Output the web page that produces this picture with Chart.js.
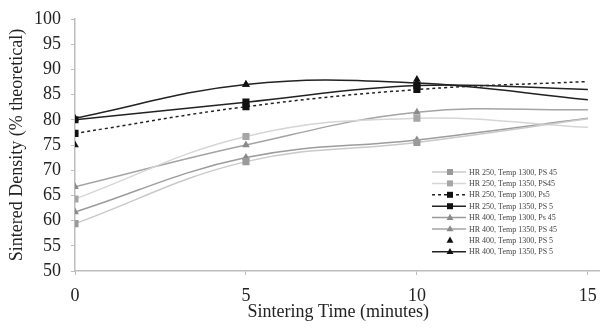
<!DOCTYPE html>
<html>
<head>
<meta charset="utf-8">
<script src="https://cdn.jsdelivr.net/npm/chart.js@4/dist/chart.umd.min.js"></script>
<style>
  html, body { margin: 0; padding: 0; background: #fff; overflow: hidden; }
  #wrap { width: 600px; height: 328px; overflow: hidden; }
</style>
</head>
<body>
<div id="wrap"><canvas id="densityChart" width="609" height="328"></canvas></div>
<script>
// Sintered density vs sintering time, 8 processing conditions

const TIMES = [0, 5, 10, 15];
const X_TICKS = [0, 5, 10, 15];
const Y_TICKS = [50, 55, 60, 65, 70, 75, 80, 85, 90, 95, 100];

const LABELS = [
  'HR 250, Temp 1300, PS 45',
  'HR 250, Temp 1350, PS45',
  'HR 250, Temp 1300, Ps5',
  'HR 250, Temp 1350, PS 5',
  'HR 400, Temp 1300, Ps 45',
  'HR 400, Temp 1350, PS 45',
  'HR 400, Temp 1300, PS 5',
  'HR 400, Temp 1350, PS 5',
];

const HR250_T1300_PS45 = [59.4, 71.7, 75.5, 80.2];
const HR250_T1350_PS45 = [64.3, 76.7, 80.3, 78.5];
const HR250_T1300_PS5 = [77.3, 82.6, 86.0, 87.6];
const HR250_T1350_PS5 = [80.0, 83.5, 86.8, 86.0];
const HR400_T1300_PS45 = [61.7, 72.5, 76.0, 80.3];
const HR400_T1350_PS45 = [66.7, 75.0, 81.5, 82.0];
const HR400_T1300_PS5 = [75.0, 87.0, 88.0, null];
const HR400_T1350_PS5 = [80.3, 87.0, 87.3, 84.0];

const SERIES = [
  HR250_T1300_PS45, HR250_T1350_PS45, HR250_T1300_PS5, HR250_T1350_PS5,
  HR400_T1300_PS45, HR400_T1350_PS45, HR400_T1300_PS5, HR400_T1350_PS5,
];

// marker / line styling per series
const STYLES = [
  { shape: 'rect', mark: '#9a9a9a', line: '#c9c9c9', dash: [], showLine: true },
  { shape: 'rect', mark: '#a6a6a6', line: '#d6d6d6', dash: [], showLine: true },
  { shape: 'rect', mark: '#111', line: '#222', dash: [3, 3], showLine: true },
  { shape: 'rect', mark: '#111', line: '#222', dash: [], showLine: true },
  { shape: 'triangle', mark: '#8a8a8a', line: '#9c9c9c', dash: [], showLine: true },
  { shape: 'triangle', mark: '#8a8a8a', line: '#a4a4a4', dash: [], showLine: true },
  { shape: 'triangle', mark: '#111', line: '#222', dash: [], showLine: false },
  { shape: 'triangle', mark: '#111', line: '#222', dash: [], showLine: true },
];

const SERIF = '"Liberation Serif", "DejaVu Serif", serif';

function markerRadius(st) {
  return st.shape === 'rect' ? 5 : 4.5;
}

const datasets = SERIES.map((vals, i) => {
  const st = STYLES[i];
  const r = markerRadius(st);
  return {
    label: LABELS[i],
    data: TIMES.map((t, j) => ({ x: t, y: vals[j] })),
    borderColor: st.line,
    backgroundColor: st.mark,
    pointBorderColor: st.mark,
    pointBackgroundColor: st.mark,
    pointStyle: st.shape,
    // last column sits on the cropped right edge of the original figure
    pointRadius: TIMES.map((t, j) => (j === TIMES.length - 1 ? 0 : r)),
    pointBorderWidth: 0,
    borderWidth: 1.5,
    borderDash: st.dash,
    showLine: st.showLine,
    tension: 0.4,
    spanGaps: false,
  };
});

function drawMarker(ctx, shape, x, y, r, color) {
  ctx.fillStyle = color;
  ctx.beginPath();
  if (shape === 'rect') {
    const s = r * Math.SQRT1_2;
    ctx.rect(x - s, y - s, 2 * s, 2 * s);
  } else {
    ctx.moveTo(x, y - r);
    ctx.lineTo(x + r * 0.9, y + r * 0.6);
    ctx.lineTo(x - r * 0.9, y + r * 0.6);
    ctx.closePath();
  }
  ctx.fill();
}

// legend box inside the plot, lower right
const insideLegend = {
  id: 'insideLegend',
  afterDraw(chart) {
    const ctx = chart.ctx;
    const x0 = 432, x1 = 466, xm = 450, xt = 469;
    const y0 = 172, dy = 11.4;
    ctx.save();
    ctx.font = '8px ' + SERIF;
    ctx.textBaseline = 'middle';
    LABELS.forEach((label, i) => {
      const st = STYLES[i];
      const y = y0 + i * dy;
      if (st.showLine) {
        ctx.strokeStyle = st.line;
        ctx.lineWidth = 1.5;
        ctx.setLineDash(st.dash);
        ctx.beginPath();
        ctx.moveTo(x0, y);
        ctx.lineTo(x1, y);
        ctx.stroke();
        ctx.setLineDash([]);
      }
      drawMarker(ctx, st.shape, xm, y, markerRadius(st) * 0.85, st.mark);
      ctx.fillStyle = '#444';
      ctx.fillText(label, xt, y + 0.5);
    });
    ctx.restore();
  },
};

new Chart(document.getElementById('densityChart'), {
  type: 'line',
  data: { datasets },
  plugins: [insideLegend],
  options: {
    responsive: false,
    animation: false,
    events: [],
    layout: { padding: { left: 8, right: 0, top: 15, bottom: 7 } },
    plugins: {
      legend: { display: false },
      tooltip: { enabled: false },
    },
    scales: {
      x: {
        type: 'linear',
        min: 0,
        max: 15.4,
        afterBuildTicks: scale => { scale.ticks = X_TICKS.map(v => ({ value: v })); },
        afterFit: scale => { scale.height = 50; },
        border: { display: true, color: '#bdbdbd', width: 1.5 },
        grid: { drawOnChartArea: false, drawTicks: true, tickLength: 4, color: '#bdbdbd' },
        ticks: {
          color: '#222',
          padding: 12,
          maxRotation: 0,
          font: { family: SERIF, size: 18, lineHeight: 1 },
        },
        title: {
          display: true,
          text: 'Sintering Time (minutes)',
          color: '#222',
          padding: { top: 0, bottom: 0 },
          font: { family: SERIF, size: 18, lineHeight: 1 },
        },
      },
      y: {
        min: 50,
        max: 100,
        afterBuildTicks: scale => { scale.ticks = Y_TICKS.map(v => ({ value: v })); },
        afterFit: scale => { scale.width = 67; },
        border: { display: true, color: '#bdbdbd', width: 1.5 },
        grid: { drawOnChartArea: false, drawTicks: true, tickLength: 4, color: '#bdbdbd' },
        ticks: {
          color: '#222',
          padding: 10,
          font: { family: SERIF, size: 18, lineHeight: 1 },
        },
        title: {
          display: true,
          text: 'Sintered Density (% theoretical)',
          color: '#222',
          padding: { top: 0, bottom: 0 },
          font: { family: SERIF, size: 18, lineHeight: 1 },
        },
      },
    },
  },
});
</script>
</body>
</html>
